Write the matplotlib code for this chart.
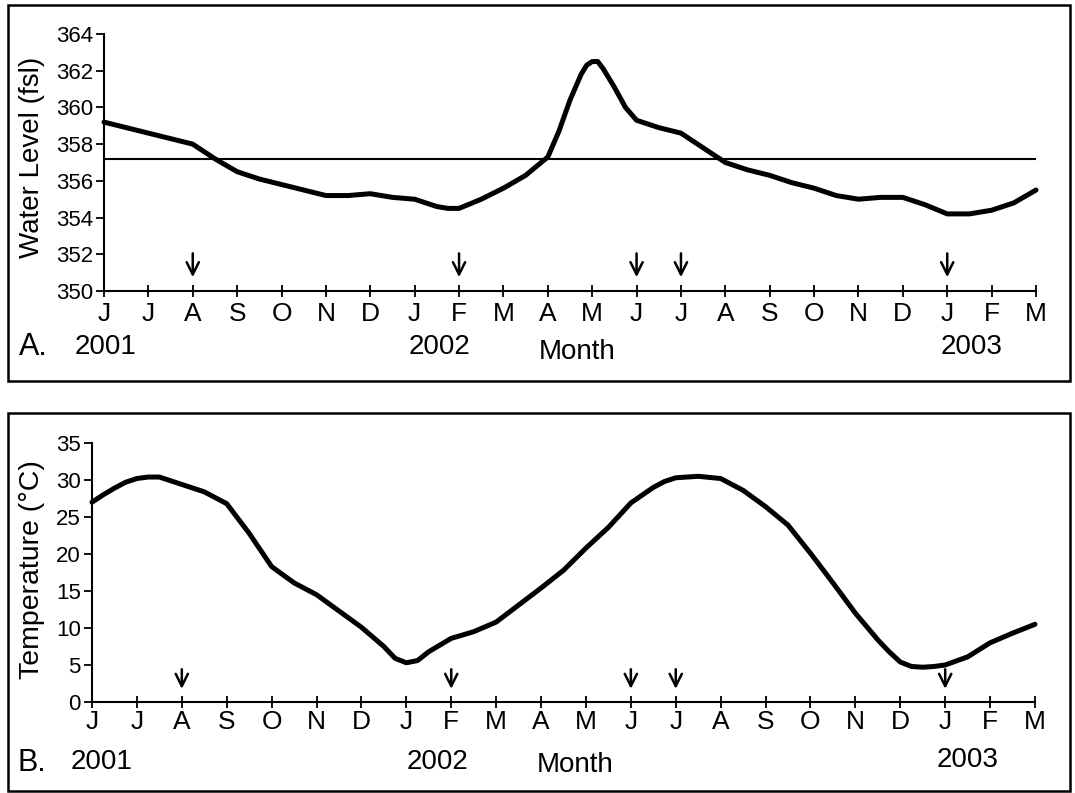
import numpy as np
import matplotlib
matplotlib.use("Agg")
import matplotlib.pyplot as plt
from matplotlib.patches import Rectangle

plt.rcParams['font.family'] = ['Liberation Sans', 'DejaVu Sans']

# month index 0 = June 2001 ... 21 = March 2003
month_labels = ['J', 'J', 'A', 'S', 'O', 'N', 'D', 'J', 'F', 'M', 'A',
                'M', 'J', 'J', 'A', 'S', 'O', 'N', 'D', 'J', 'F', 'M']

level_months = [0, 0.5, 1, 1.5, 2, 2.5, 3, 3.5, 4, 4.5, 5, 5.5, 6, 6.5, 7,
                7.5, 7.75, 8, 8.5, 9, 9.5, 10, 10.25, 10.5, 10.75, 10.875, 11,
                11.125, 11.25, 11.5, 11.75, 12, 12.5, 13, 13.5, 14, 14.5, 15,
                15.5, 16, 16.5, 17, 17.5, 18, 18.5, 19, 19.5, 20, 20.5, 21]
water_level = [359.2, 358.9, 358.6, 358.3, 358.0, 357.2, 356.5, 356.1, 355.8,
               355.5, 355.2, 355.2, 355.3, 355.1, 355.0, 354.6, 354.5, 354.5,
               355.0, 355.6, 356.3, 357.3, 358.7, 360.4, 361.8, 362.3, 362.5,
               362.5, 362.1, 361.1, 360.0, 359.3, 358.9, 358.6, 357.8, 357.0,
               356.6, 356.3, 355.9, 355.6, 355.2, 355.0, 355.1, 355.1, 354.7,
               354.2, 354.2, 354.4, 354.8, 355.5]
mean_level = 357.2

temp_months = [0, 0.25, 0.5, 0.75, 1, 1.25, 1.5, 1.75, 2, 2.5, 3, 3.5, 4,
               4.5, 5, 5.5, 6, 6.5, 6.75, 7, 7.25, 7.5, 8, 8.5, 9, 9.5, 10,
               10.5, 11, 11.5, 12, 12.5, 12.75, 13, 13.5, 14, 14.5, 15, 15.5,
               16, 16.5, 17, 17.5, 17.75, 18, 18.25, 18.5, 18.75, 19, 19.5,
               20, 20.5, 21]
temperature = [27.0, 28.0, 28.9, 29.7, 30.2, 30.4, 30.4, 29.9, 29.4, 28.4,
               26.8, 22.8, 18.3, 16.1, 14.5, 12.3, 10.1, 7.5, 5.9, 5.3, 5.6,
               6.8, 8.6, 9.5, 10.8, 13.1, 15.4, 17.8, 20.8, 23.6, 26.9, 29.0,
               29.8, 30.3, 30.5, 30.2, 28.6, 26.4, 23.9, 20.1, 16.1, 12.0, 8.4,
               6.8, 5.4, 4.8, 4.7, 4.8, 5.0, 6.1, 8.0, 9.3, 10.5]

arrow_months = [2, 8, 12, 13, 19]

W, H = 1075, 793
fig = plt.figure(figsize=(W / 100, H / 100), dpi=100)

# outer frames round each panel
fig.patches.append(Rectangle((8 / W, 1 - 381 / H), 1062 / W, 376 / H,
                             transform=fig.transFigure, fill=False, lw=1.8, color='black'))
fig.patches.append(Rectangle((8 / W, 1 - 791 / H), 1062 / W, 378 / H,
                             transform=fig.transFigure, fill=False, lw=1.8, color='black'))

axA = fig.add_axes([104 / W, 1 - 291 / H, (1036 - 104) / W, (291 - 34) / H])
axB = fig.add_axes([92 / W, 1 - 702 / H, (1035 - 92) / W, (702 - 443) / H])


def style_axis(ax, pad_x):
    for side in ['top', 'right']:
        ax.spines[side].set_visible(False)
    for side in ['left', 'bottom']:
        ax.spines[side].set_linewidth(1.5)
    ax.set_xlim(0, 21)
    ax.set_xticks(range(len(month_labels)))
    ax.set_xticklabels(month_labels)
    ax.tick_params(axis='x', direction='inout', length=8, width=1.3,
                   labelsize=19, pad=pad_x)
    ax.tick_params(axis='y', direction='out', length=6, width=1.3,
                   labelsize=16, pad=2)


def draw_arrows(ax, tip, tail):
    for m in arrow_months:
        ax.annotate('', xy=(m, tip), xytext=(m, tail),
                    arrowprops=dict(arrowstyle='->', lw=1.8, color='black',
                                    mutation_scale=22))


# Panel A: water level
axA.plot(level_months, water_level, color='black', lw=3.6, clip_on=False,
         solid_capstyle='round', solid_joinstyle='round')
axA.axhline(mean_level, color='black', lw=1.5)
axA.set_ylim(350, 364)
axA.set_yticks(range(350, 365, 2))
style_axis(axA, 4)
draw_arrows(axA, 350.6, 352.2)

# Panel B: temperature
axB.plot(temp_months, temperature, color='black', lw=3.6, clip_on=False,
         solid_capstyle='round', solid_joinstyle='round')
axB.set_ylim(0, 35)
axB.set_yticks(range(0, 36, 5))
style_axis(axB, 2)
draw_arrows(axB, 1.4, 4.8)

# axis titles and year labels
fig.text(32 / W, 1 - 157 / H, 'Water Level (fsl)', rotation=90,
         ha='center', va='center', fontsize=20)
fig.text(32 / W, 1 - 570 / H, 'Temperature (°C)', rotation=90,
         ha='center', va='center', fontsize=20.5)

fig.text(19 / W, 1 - 347 / H, 'A.', ha='left', va='center', fontsize=22)
fig.text(106 / W, 1 - 347 / H, '2001', ha='center', va='center', fontsize=20)
fig.text(440 / W, 1 - 347 / H, '2002', ha='center', va='center', fontsize=20)
fig.text(577 / W, 1 - 352 / H, 'Month', ha='center', va='center', fontsize=20)
fig.text(972 / W, 1 - 347 / H, '2003', ha='center', va='center', fontsize=20)

fig.text(17 / W, 1 - 763 / H, 'B.', ha='left', va='center', fontsize=22)
fig.text(102 / W, 1 - 762 / H, '2001', ha='center', va='center', fontsize=20)
fig.text(437 / W, 1 - 762 / H, '2002', ha='center', va='center', fontsize=20)
fig.text(575 / W, 1 - 765 / H, 'Month', ha='center', va='center', fontsize=20)
fig.text(968 / W, 1 - 760 / H, '2003', ha='center', va='center', fontsize=20)

fig.savefig('out.png', dpi=100)
